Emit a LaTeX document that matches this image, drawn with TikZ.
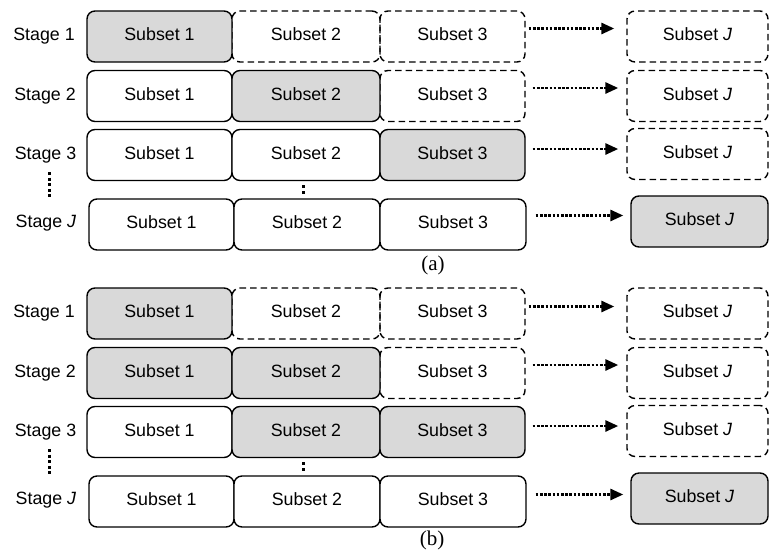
\documentclass[tikz,border=0pt]{standalone}
\usepackage{fontspec}
\setmainfont{Liberation Sans}
\newfontfamily\capserif{Liberation Serif}
\usetikzlibrary{arrows.meta,calc}
\definecolor{boxgray}{HTML}{D9D9D9}
\tikzset{
  sbox/.style={draw=black, rounded corners=8pt, line width=1.4pt, minimum height=51pt,
    inner sep=0pt, text height=13pt, text depth=5pt, font=\fontsize{17.8}{20}\selectfont},
  solidbox/.style={sbox, fill=white},
  greybox/.style={sbox, fill=boxgray},
  dashbox/.style={sbox, dash pattern=on 6.5pt off 4pt},
  stagelbl/.style={inner sep=0pt, text height=13pt, text depth=5pt, font=\fontsize{17.8}{20}\selectfont},
  flow/.style={line width=2.8pt, dash pattern=on 2.6pt off 1.6pt, -{Triangle[length=13pt,width=11pt]}},
  vdotline/.style={line width=3pt, dash pattern=on 3pt off 2.6pt},
  caption/.style={inner sep=0pt, font=\capserif\fontsize{21}{24}\selectfont}
}
\begin{document}
\begin{tikzpicture}[x=1pt,y=-1pt]
\useasboundingbox (0,0) rectangle (770,552);
% ---------- panel (a) ----------
% row 1
\node[dashbox, minimum width=148pt] (a12) at (306,36.5) {Subset 2};
\node[dashbox, minimum width=145pt] (a13) at (452.5,36.5) {Subset 3};
\node[dashbox, minimum width=141pt] (a1J) at (697.5,36.5) {Subset \textit{J}};
\node[greybox, minimum width=145pt] (a11) at (159.5,36.5) {Subset 1};
% row 2
\node[dashbox, minimum width=145pt] (a23) at (452.5,96) {Subset 3};
\node[dashbox, minimum width=141pt] (a2J) at (697.5,96) {Subset \textit{J}};
\node[solidbox, minimum width=145pt] (a21) at (159.5,96) {Subset 1};
\node[greybox, minimum width=148pt] (a22) at (306,96) {Subset 2};
% row 3
\node[dashbox, minimum width=141pt] (a3J) at (697.5,154) {Subset \textit{J}};
\node[solidbox, minimum width=145pt] (a31) at (159.5,155) {Subset 1};
\node[solidbox, minimum width=148pt] (a32) at (306,155) {Subset 2};
\node[greybox, minimum width=145pt] (a33) at (452.5,155) {Subset 3};
% row J
\node[solidbox, minimum width=145pt] (aJ1) at (161.5,224.5) {Subset 1};
\node[solidbox, minimum width=146pt] (aJ2) at (307,224.5) {Subset 2};
\node[solidbox, minimum width=146pt] (aJ3) at (453,224.5) {Subset 3};
\node[greybox, minimum width=137pt] (aJJ) at (699.5,221.5) {Subset \textit{J}};
% stage labels
\node[stagelbl] (as1) at (44,36.5) {Stage 1};
\node[stagelbl] (as2) at (45,96) {Stage 2};
\node[stagelbl] (as3) at (45.5,155) {Stage 3};
\node[stagelbl] (asJ) at (46,223) {Stage \textit{J}};
% arrows
\draw[flow, shorten >=15pt] ([xshift=3pt,yshift=8pt]a13.east) -- ([xshift=3pt,yshift=8pt]a13.east -| a1J.west);
\draw[flow, shorten >=15pt] ([xshift=7pt,yshift=8pt]a23.east) -- ([xshift=7pt,yshift=8pt]a23.east -| a2J.west);
\draw[flow, shorten >=15pt] ([xshift=7pt,yshift=6pt]a33.east) -- ([xshift=7pt,yshift=6pt]a33.east -| a3J.west);
\draw[flow, shorten >=16pt] ([xshift=9pt,yshift=9pt]aJ3.east) -- ([xshift=9pt,yshift=9pt]aJ3.east -| aJJ.west);
% dots
\draw[vdotline] (49,172) -- (49,199);
\draw[line width=3pt, dash pattern=on 3pt off 3pt] (303,185) -- (303,194);
\node[caption] (capa) at (433,265) {(a)};
% ---------- panel (b) ----------
% row 1
\node[dashbox, minimum width=148pt] (b12) at (306,313.5) {Subset 2};
\node[dashbox, minimum width=145pt] (b13) at (452.5,313.5) {Subset 3};
\node[dashbox, minimum width=141pt] (b1J) at (697.5,313.5) {Subset \textit{J}};
\node[greybox, minimum width=145pt] (b11) at (159.5,313.5) {Subset 1};
% row 2
\node[dashbox, minimum width=145pt] (b23) at (452.5,373) {Subset 3};
\node[dashbox, minimum width=141pt] (b2J) at (697.5,373) {Subset \textit{J}};
\node[greybox, minimum width=145pt] (b21) at (159.5,373) {Subset 1};
\node[greybox, minimum width=148pt] (b22) at (306,373) {Subset 2};
% row 3
\node[dashbox, minimum width=141pt] (b3J) at (697.5,431) {Subset \textit{J}};
\node[solidbox, minimum width=145pt] (b31) at (159.5,432) {Subset 1};
\node[greybox, minimum width=148pt] (b32) at (306,432) {Subset 2};
\node[greybox, minimum width=145pt] (b33) at (452.5,432) {Subset 3};
% row J
\node[solidbox, minimum width=145pt] (bJ1) at (161.5,501.5) {Subset 1};
\node[solidbox, minimum width=146pt] (bJ2) at (307,501.5) {Subset 2};
\node[solidbox, minimum width=146pt] (bJ3) at (453,501.5) {Subset 3};
\node[greybox, minimum width=137pt] (bJJ) at (699.5,498.5) {Subset \textit{J}};
% stage labels
\node[stagelbl] (bs1) at (44,313.5) {Stage 1};
\node[stagelbl] (bs2) at (45,373) {Stage 2};
\node[stagelbl] (bs3) at (45.5,432) {Stage 3};
\node[stagelbl] (bsJ) at (46,500) {Stage \textit{J}};
% arrows
\draw[flow, shorten >=15pt] ([xshift=3pt,yshift=7pt]b13.east) -- ([xshift=3pt,yshift=7pt]b13.east -| b1J.west);
\draw[flow, shorten >=15pt] ([xshift=7pt,yshift=8pt]b23.east) -- ([xshift=7pt,yshift=8pt]b23.east -| b2J.west);
\draw[flow, shorten >=15pt] ([xshift=7pt,yshift=6pt]b33.east) -- ([xshift=7pt,yshift=6pt]b33.east -| b3J.west);
\draw[flow, shorten >=16pt] ([xshift=9pt,yshift=7pt]bJ3.east) -- ([xshift=9pt,yshift=7pt]bJ3.east -| bJJ.west);
% dots
\draw[vdotline] (49,449) -- (49,476);
\draw[line width=3pt, dash pattern=on 3pt off 3pt] (303,462) -- (303,471);
\node[caption] (capb) at (432,540) {(b)};
\end{tikzpicture}
\end{document}
